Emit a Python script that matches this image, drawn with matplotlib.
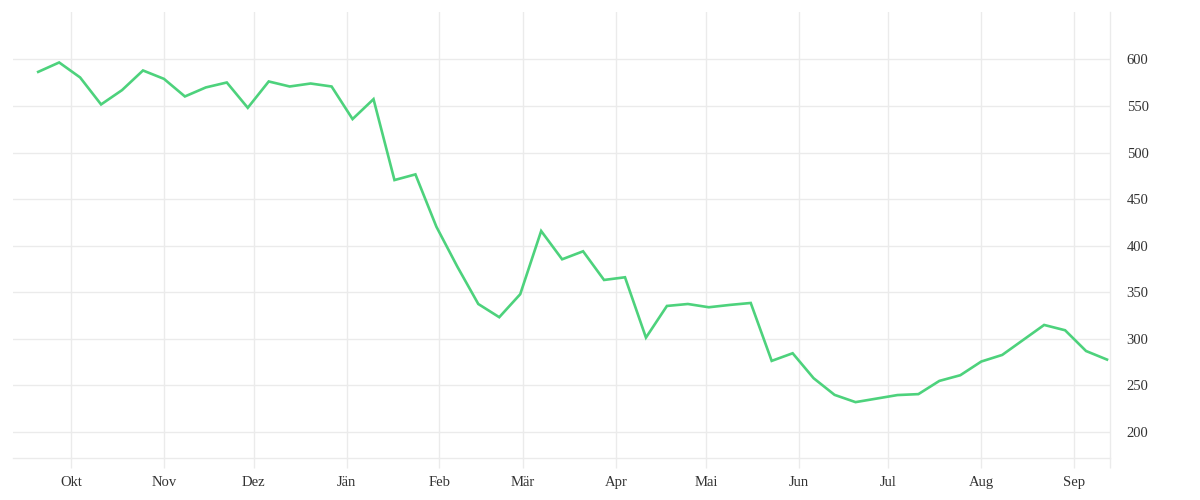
import matplotlib
matplotlib.use("Agg")
import matplotlib.pyplot as plt
import matplotlib.dates as mdates
import pandas as pd

# Wochenwerte
fechas = pd.date_range("2022-09-20", periods=52, freq="7D")
valores = [586.7, 596.8, 580.7, 551.7, 567.1, 588.2, 579.2, 560.3, 570.0, 575.3,
           548.1, 576.4, 571.0, 574.2, 571.0, 536.0, 557.4, 470.5, 476.6, 420.4,
           377.5, 337.4, 323.2, 347.9, 415.8, 385.4, 394.0, 363.2, 366.1, 301.3,
           335.3, 337.4, 333.9, 336.4, 338.5, 276.3, 284.5, 257.7, 239.8, 232.0,
           235.8, 239.6, 240.6, 254.8, 260.9, 275.6, 282.7, 298.8, 314.9, 309.2,
           286.9, 277.7]

meses = pd.date_range("2022-10-01", periods=12, freq="MS")
etiquetas = ["Okt", "Nov", "Dez", "Jän", "Feb", "Mär", "Apr", "Mai", "Jun", "Jul", "Aug", "Sep"]
yticks = [200, 250, 300, 350, 400, 450, 500, 550, 600]

gris = "#ebebeb"
plt.rcParams["font.family"] = ["Liberation Serif", "DejaVu Serif"]

fig = plt.figure(figsize=(12, 5), dpi=100)
ax = fig.add_axes([13 / 1200, 1 - 458 / 500, (1110 - 13) / 1200, (458 - 12) / 500])

ax.plot(fechas, valores, color="#4dd27c", linewidth=1.9, solid_joinstyle="miter")

xmin = pd.Timestamp("2022-09-11 14:00")
xmax = pd.Timestamp("2023-09-13 00:00")
ax.set_xlim(xmin, xmax)
ax.set_ylim(172, 651)

ax.set_xticks(meses)
ax.set_xticklabels(etiquetas)
ax.set_xticks([mdates.date2num(xmax)], minor=True)
ax.set_yticks(yticks)
ax.yaxis.tick_right()

ax.grid(True, color=gris, linewidth=1)
ax.set_axisbelow(True)
ax.tick_params(axis="x", which="both", length=7.2, width=1, color=gris, pad=6,
               labelsize=10.5, labelcolor="#333333")
ax.tick_params(axis="y", length=0, pad=12, labelsize=10.5, labelcolor="#333333")

for lado in ["top", "left"]:
    ax.spines[lado].set_visible(False)
for lado in ["bottom", "right"]:
    ax.spines[lado].set_color(gris)
    ax.spines[lado].set_linewidth(1)

fig.savefig("out.png", dpi=100)
